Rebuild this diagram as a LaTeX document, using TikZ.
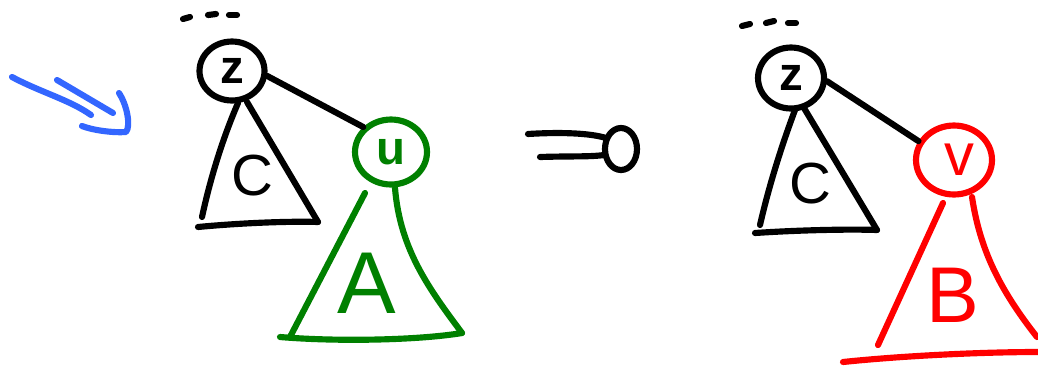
\documentclass[tikz,border=0pt]{standalone}
\usepackage{fontspec}
\setmainfont{Liberation Sans}
\usetikzlibrary{shapes.geometric}
\definecolor{pblue}{RGB}{51,102,255}
\definecolor{pgreen}{RGB}{0,128,0}
\definecolor{pred}{RGB}{255,0,0}
\newcommand\hwsize[1]{\fontsize{#1}{#1}\selectfont}
\tikzset{
  stroke/.style={line width=3.5pt, line cap=round, line join=round},
  vert/.style={ellipse, draw, stroke, inner sep=0pt},
  lbl/.style={inner sep=0pt},
}
\begin{document}
\begin{tikzpicture}[x=0.02cm,y=-0.02cm]
\useasboundingbox (0,0) rectangle (1038,366);
% blue arrow
\draw[stroke,pblue] (12,77) .. controls (40,92) and (70,100) .. (91,115);
\draw[stroke,pblue] (57,80) -- (113,113);
\draw[stroke,pblue] (119,93) .. controls (127,105) and (131,126) .. (126,132) .. controls (112,133) and (92,130) .. (82,126);
% left tree
\draw[stroke] (183,19) -- (190,17);
\draw[stroke] (208,15) -- (216,14);
\draw[stroke] (229,15) -- (237,15);
\node[vert, minimum width=1.30cm, minimum height=1.18cm] (zL) at (232,71) {\hwsize{27}\bfseries z};
\node[vert, pgreen, minimum width=1.44cm, minimum height=1.30cm] (uL) at (391,152) {\hwsize{27}\bfseries u};
\draw[stroke] (zL.-8) -- (uL.138);
\draw[stroke] (238,103) .. controls (222,140) and (210,180) .. (202,217);
\draw[stroke] (247,102) -- (318,222);
\draw[stroke] (198,227) .. controls (240,223) and (290,221) .. (318,222);
\node[lbl] (CL) at (252,176) {\hwsize{33}C};
\draw[stroke,pgreen] (365,193) -- (290,337);
\draw[stroke,pgreen] (395,188) .. controls (400,250) and (430,290) .. (462,333);
\draw[stroke,pgreen] (280,337) .. controls (340,342) and (420,340) .. (462,333);
\node[lbl,pgreen] (AL) at (367,283) {\hwsize{50}A};
% implies sign
\draw[stroke] (528,134) .. controls (560,132) and (590,133) .. (606,138);
\draw[stroke] (540,157) .. controls (570,156) and (590,157) .. (604,155);
\draw[stroke] (621,149) ellipse [x radius=0.32cm, y radius=0.42cm];
% right tree
\draw[stroke] (742,26) -- (750,24);
\draw[stroke] (766,23) -- (774,21);
\draw[stroke] (788,23) -- (796,23);
\node[vert, minimum width=1.32cm, minimum height=1.22cm] (zR) at (791,78) {\hwsize{27}\bfseries z};
\node[vert, pred, minimum width=1.52cm, minimum height=1.38cm] (vR) at (954,160) {\hwsize{34}\,v};
\draw[stroke] (zR.-5) -- (vR.152);
\draw[stroke] (795,110) .. controls (780,150) and (768,190) .. (760,225);
\draw[stroke] (804,108) -- (877,230);
\draw[stroke] (755,233) .. controls (800,230) and (850,229) .. (877,230);
\node[lbl] (CR) at (810,184) {\hwsize{33}C};
\draw[stroke,pred] (943,203) -- (878,345);
\draw[stroke,pred] (972,197) .. controls (980,250) and (1000,290) .. (1037,337);
\draw[stroke,pred] (843,362) .. controls (900,356) and (980,352) .. (1038,352);
\node[lbl,pred] (BR) at (953,295) {\hwsize{45}B};
\end{tikzpicture}
\end{document}
